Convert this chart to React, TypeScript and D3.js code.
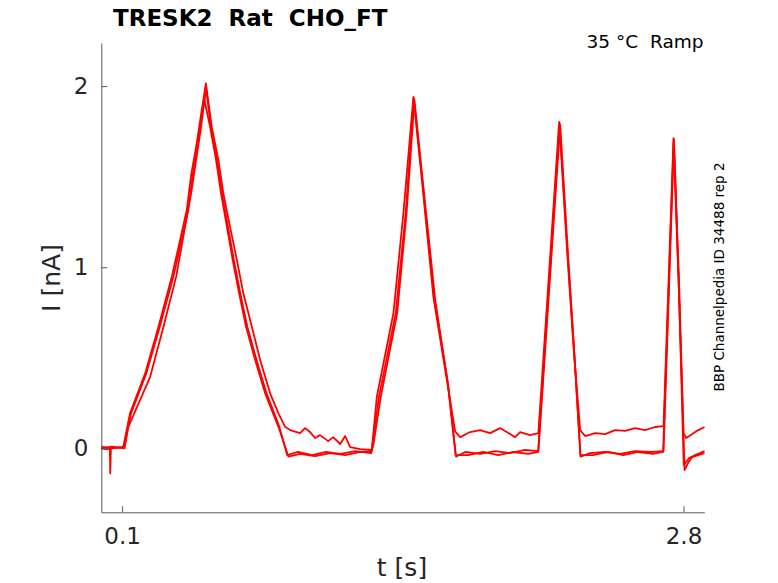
import * as d3 from "d3";
import { useEffect, useRef } from "react";

type Pt = [number, number];

const W = 778;
const H = 583;

const X_TICKS = [0.1, 2.8];
const Y_TICKS = [0, 1, 2];

// sweep with the raised holding current after each ramp
const sweepA: Pt[] = [
  [0.0, 0.0], [0.05, 0.01], [0.09, 0.004], [0.106, 0.009],
  [0.138, 0.193], [0.211, 0.414], [0.275, 0.671], [0.339, 0.948], [0.379, 1.15], [0.411, 1.316],
  [0.432, 1.509], [0.459, 1.684], [0.483, 1.868], [0.503, 2.015],
  [0.531, 1.776], [0.563, 1.592], [0.587, 1.408], [0.619, 1.224], [0.652, 1.04], [0.683, 0.856],
  [0.724, 0.671], [0.764, 0.488], [0.812, 0.304], [0.852, 0.193], [0.884, 0.119],
  [0.908, 0.101], [0.956, 0.084], [0.98, 0.112], [1.004, 0.09], [1.028, 0.057], [1.052, 0.073],
  [1.091, 0.04], [1.115, 0.062], [1.149, 0.024], [1.173, 0.068], [1.197, 0.007], [1.245, -0.004],
  [1.301, -0.009],
  [1.325, 0.285], [1.405, 0.747], [1.453, 1.299], [1.501, 1.941],
  [1.542, 1.481], [1.597, 0.837], [1.662, 0.377], [1.702, 0.092],
  [1.726, 0.062], [1.774, 0.09], [1.822, 0.101], [1.87, 0.084], [1.918, 0.112], [1.966, 0.079],
  [1.99, 0.062], [2.014, 0.09], [2.062, 0.073], [2.102, 0.084],
  [2.202, 1.803], [2.239, 1.113], [2.271, 0.561], [2.303, 0.101],
  [2.327, 0.068], [2.375, 0.084], [2.423, 0.079], [2.471, 0.101], [2.519, 0.096], [2.567, 0.112],
  [2.615, 0.101], [2.663, 0.118], [2.704, 0.123],
  [2.752, 1.712], [2.776, 0.93], [2.8, 0.084],
  [2.813, 0.057], [2.842, 0.079], [2.871, 0.101], [2.901, 0.118],
];

const sweepB: Pt[] = [
  [0.0, 0.0], [0.03, -0.005], [0.041, 0.0], [0.043, -0.138], [0.046, 0.0], [0.08, 0.005], [0.112, 0.0],
  [0.13, 0.119], [0.235, 0.395], [0.299, 0.671], [0.36, 0.948], [0.403, 1.224], [0.432, 1.408],
  [0.456, 1.592], [0.48, 1.776], [0.496, 1.923],
  [0.523, 1.776], [0.552, 1.592], [0.576, 1.408], [0.604, 1.224], [0.632, 1.04], [0.663, 0.856],
  [0.696, 0.671], [0.74, 0.488], [0.788, 0.304], [0.852, 0.119], [0.9, -0.046],
  [0.956, -0.031], [1.028, -0.043], [1.101, -0.026], [1.173, -0.037], [1.245, -0.02], [1.301, -0.015],
  [1.31, 0.03], [1.344, 0.285], [1.423, 0.747], [1.468, 1.299], [1.506, 1.923],
  [1.548, 1.454], [1.606, 0.819], [1.668, 0.349], [1.706, -0.046],
  [1.75, -0.02], [1.822, -0.031], [1.894, -0.015], [1.966, -0.026], [2.038, -0.009], [2.102, -0.015],
  [2.207, 1.785], [2.243, 1.095], [2.274, 0.543], [2.305, -0.046],
  [2.351, -0.026], [2.423, -0.02], [2.495, -0.031], [2.567, -0.015], [2.64, -0.02], [2.704, -0.015],
  [2.754, 1.702], [2.779, 0.902], [2.805, -0.12],
  [2.824, -0.076], [2.842, -0.048], [2.871, -0.037], [2.901, -0.026],
];

const sweepC: Pt[] = [
  [0.0, 0.01], [0.05, 0.0], [0.1, 0.005], [0.11, 0.013],
  [0.142, 0.19], [0.216, 0.412], [0.281, 0.67], [0.346, 0.946], [0.386, 1.148], [0.418, 1.314],
  [0.439, 1.507], [0.465, 1.682], [0.488, 1.866], [0.505, 1.978],
  [0.526, 1.78], [0.556, 1.594], [0.58, 1.41], [0.609, 1.226], [0.637, 1.042], [0.668, 0.858],
  [0.702, 0.673], [0.746, 0.49], [0.794, 0.306], [0.856, 0.12], [0.894, -0.037],
  [0.946, -0.02], [1.014, -0.037], [1.081, -0.02], [1.149, -0.031], [1.221, -0.015], [1.298, -0.026],
  [1.335, 0.283], [1.416, 0.747], [1.464, 1.299], [1.503, 1.934],
  [1.545, 1.465], [1.601, 0.829], [1.666, 0.366], [1.704, -0.037],
  [1.764, -0.037], [1.836, -0.02], [1.909, -0.037], [1.981, -0.02], [2.053, -0.031], [2.101, -0.02],
  [2.204, 1.796], [2.241, 1.106], [2.273, 0.553], [2.304, -0.037],
  [2.365, -0.037], [2.437, -0.02], [2.51, -0.037], [2.582, -0.02], [2.654, -0.031], [2.702, -0.02],
  [2.753, 1.708], [2.777, 0.918], [2.801, -0.092],
  [2.827, -0.054], [2.856, -0.037], [2.901, -0.015],
];

const SWEEPS = [sweepA, sweepB, sweepC];

export default function App() {
  const svgRef = useRef<SVGSVGElement | null>(null);

  useEffect(() => {
    const x = d3.scaleLinear().domain([0, 2.9]).range([101.3, 704.3]);
    const y = d3.scaleLinear().domain([-0.353, 2.238]).range([512.3, 43]);

    const svg = d3.select(svgRef.current);
    svg.selectAll("*").remove();

    const font = "DejaVu Sans, sans-serif";

    // traces
    const line = d3
      .line<Pt>()
      .x(d => x(d[0]))
      .y(d => y(d[1]));

    svg
      .append("g")
      .selectAll("path")
      .data(SWEEPS)
      .enter()
      .append("path")
      .attr("d", d => line(d))
      .attr("fill", "none")
      .attr("stroke", "#ff0000")
      .attr("stroke-width", 1.8)
      .attr("stroke-linejoin", "round");

    // X Axis
    const gx = svg
      .append("g")
      .attr("transform", `translate(0,${y.range()[0]})`)
      .call(
        d3.axisBottom(x)
          .tickValues(X_TICKS)
          .tickSizeInner(-6)
          .tickSizeOuter(0)
          .tickPadding(15)
          .tickFormat(d3.format(".1f"))
      );

    // Y Axis
    const gy = svg
      .append("g")
      .attr("transform", `translate(${x.range()[0]},0)`)
      .call(
        d3.axisLeft(y)
          .tickValues(Y_TICKS)
          .tickSizeInner(-6)
          .tickSizeOuter(0)
          .tickPadding(13)
          .tickFormat(d3.format("d"))
      );

    [gx, gy].forEach(g => {
      g.select(".domain").attr("stroke", "#5a5a5a");
      g.selectAll(".tick line").attr("stroke", "#5a5a5a");
      g.selectAll(".tick text")
        .attr("fill", "#262626")
        .attr("font-size", 23)
        .attr("font-family", font);
    });

    // labels
    svg
      .append("text")
      .attr("x", 402)
      .attr("y", 576)
      .attr("text-anchor", "middle")
      .attr("font-size", 25)
      .attr("font-family", font)
      .attr("fill", "#262626")
      .text("t [s]");

    svg
      .append("text")
      .attr("transform", "translate(59.5,278) rotate(-90)")
      .attr("text-anchor", "middle")
      .attr("font-size", 25)
      .attr("font-family", font)
      .attr("fill", "#262626")
      .text("I [nA]");

    svg
      .append("text")
      .attr("x", 113)
      .attr("y", 26)
      .attr("font-size", 23)
      .attr("font-weight", "bold")
      .attr("font-family", font)
      .attr("fill", "#000")
      .style("white-space", "pre")
      .text("TRESK2  Rat  CHO_FT");

    svg
      .append("text")
      .attr("x", 703.5)
      .attr("y", 47.5)
      .attr("text-anchor", "end")
      .attr("font-size", 18.5)
      .attr("font-family", font)
      .attr("fill", "#000")
      .style("white-space", "pre")
      .text("35 °C  Ramp");

    svg
      .append("text")
      .attr("transform", "translate(723.5,277) rotate(-90)")
      .attr("text-anchor", "middle")
      .attr("font-size", 13.5)
      .attr("font-family", font)
      .attr("fill", "#000")
      .text("BBP Channelpedia ID 34488 rep 2");
  }, []);

  return (
    <svg
      ref={svgRef}
      width={W}
      height={H}
      style={{ position: "absolute", left: 0, top: 0, display: "block", background: "#fff" }}
    />
  );
}
